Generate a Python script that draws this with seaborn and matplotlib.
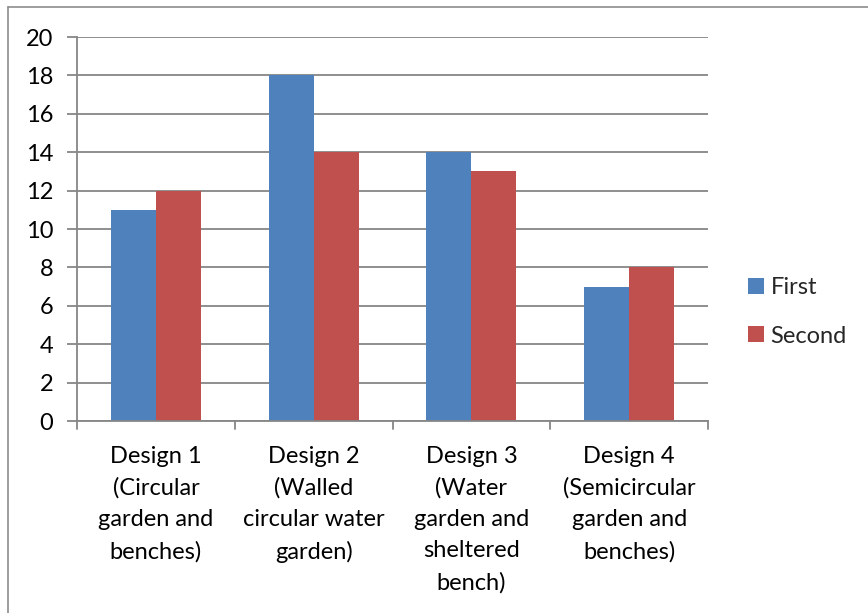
import matplotlib
matplotlib.use("Agg")
import matplotlib.pyplot as plt
from matplotlib.lines import Line2D
from matplotlib.patches import Patch
import seaborn as sns
import pandas as pd

categories = [
    "Design 1\n(Circular\ngarden and\nbenches)",
    "Design 2\n(Walled\ncircular water\ngarden)",
    "Design 3\n(Water\ngarden and\nsheltered\nbench)",
    "Design 4\n(Semicircular\ngarden and\nbenches)",
]
series_names = ["First", "Second"]
first_values = [11, 18, 14, 7]
second_values = [12, 14, 13, 8]
y_ticks = [0, 2, 4, 6, 8, 10, 12, 14, 16, 18, 20]

colors = ["#4F81BD", "#C0504D"]
grid_color = "#868686"

df = pd.DataFrame({
    "category": categories * 2,
    "series": [series_names[0]] * 4 + [series_names[1]] * 4,
    "value": first_values + second_values,
})

sns.set_theme(style="white")
plt.rcParams["font.family"] = ["Lato", "DejaVu Sans"]

fig = plt.figure(figsize=(8.68, 6.13), dpi=100)
ax = fig.add_axes([77 / 868, 1 - 421 / 613, (708 - 77) / 868, (421 - 37) / 613])

sns.barplot(data=df, x="category", y="value", hue="series", order=categories,
            hue_order=series_names, palette=colors, width=0.57, saturation=1,
            edgecolor="none", linewidth=0, ax=ax, legend=False)

ax.set_xlim(-0.5, 3.5)
ax.set_ylim(0, 20)
ax.set_yticks(y_ticks)
ax.set_yticklabels([str(t) for t in y_ticks], fontsize=17)
ax.yaxis.grid(True, color=grid_color, linewidth=1.3)
ax.set_axisbelow(True)
ax.set_xlabel("")
ax.set_ylabel("")

for side in ["top", "right"]:
    ax.spines[side].set_visible(False)
for side in ["left", "bottom"]:
    ax.spines[side].set_color(grid_color)
    ax.spines[side].set_linewidth(1.3)

ax.tick_params(axis="y", left=True, length=7, width=1.3, color=grid_color, pad=10, labelcolor="black")
ax.set_xticks([0, 1, 2, 3])
ax.set_xticklabels(categories, fontsize=17, linespacing=1.6, va="top")
ax.tick_params(axis="x", bottom=False, pad=12, labelcolor="black")
# category boundary ticks below the axis
for b in [-0.5, 0.5, 1.5, 2.5, 3.5]:
    ax.plot([b, b], [0, -0.4], color=grid_color, linewidth=1.3, clip_on=False)

handles = [Patch(facecolor=c, edgecolor="none", label=n) for c, n in zip(colors, series_names)]
fig.legend(handles=handles, loc="center left", bbox_to_anchor=(727 / 868, 1 - 312 / 613),
           frameon=False, fontsize=17, handlelength=0.65, handleheight=0.65,
           handletextpad=0.3, labelspacing=1.15)

# outer chart frame (top and left edges)
fig.add_artist(Line2D([8 / 868, 8 / 868], [0, 1 - 7 / 613], transform=fig.transFigure,
                      color="#8c8c8c", linewidth=1.2))
fig.add_artist(Line2D([8 / 868, 1], [1 - 7 / 613, 1 - 7 / 613], transform=fig.transFigure,
                      color="#8c8c8c", linewidth=1.2))

fig.savefig("out.png", dpi=100)
